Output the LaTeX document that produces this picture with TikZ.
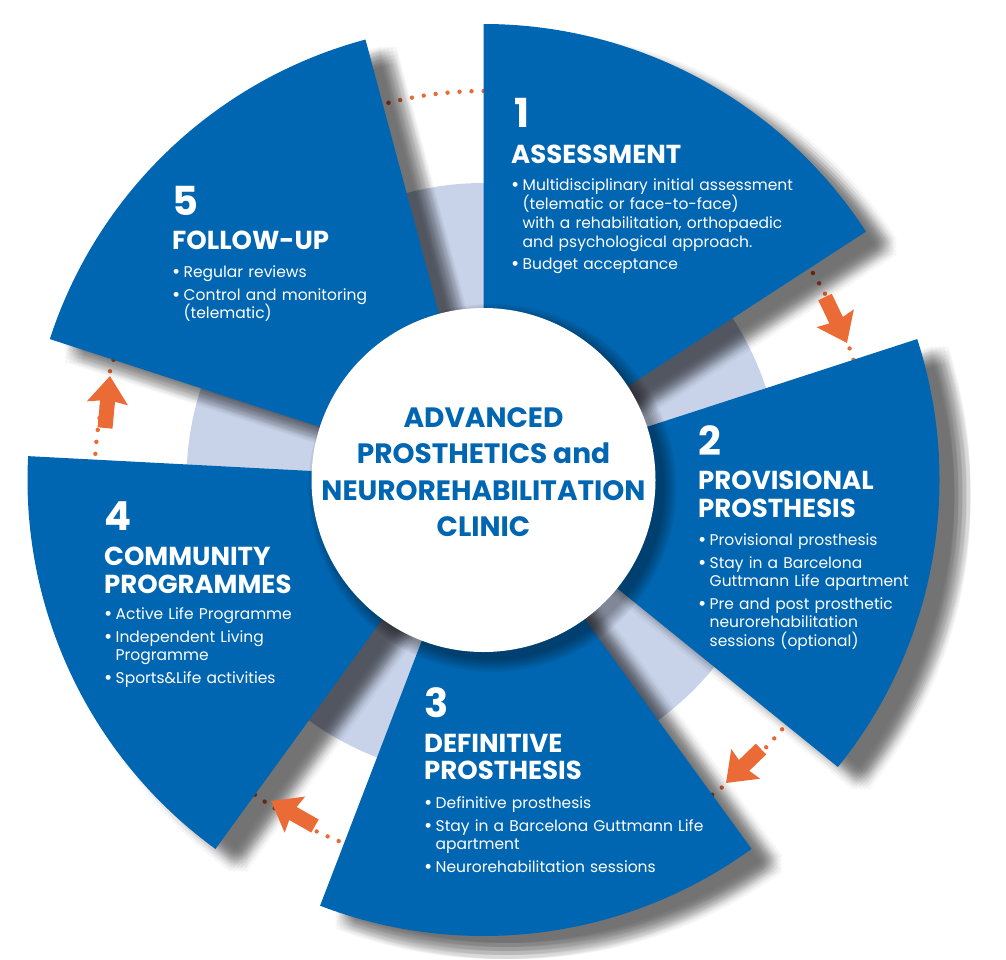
\documentclass[tikz,border=0pt]{standalone}
\usepackage{fontspec}
\setmainfont{Poppins}
\usetikzlibrary{positioning, arrows.meta, shapes.geometric}
\definecolor{clinicblue}{HTML}{0066B1}
\definecolor{ringblue}{HTML}{C8D3EA}
\definecolor{flowred}{HTML}{EB6B36}
\newcommand{\nl}{\hfil\break}
\newcommand{\bitem}[1]{\par\hangindent=11.5pt\hangafter=1\noindent\hbox to 11.5pt{\raisebox{-1pt}{\fontsize{20}{20}\selectfont\textbullet}\hss}#1\par}
\newcommand{\sectorpath}[1]{(0,0) -- (#1:456) arc[start angle=#1, delta angle=-57, radius=456] -- cycle}
\tikzset{
  num/.style={
      font=\fontsize{40}{40}\selectfont\bfseries,
      text=white,
      inner sep=0pt,
      anchor=base west
    },
  head/.style={
      font=\fontsize{26}{27.5}\selectfont\bfseries,
      text=white,
      inner sep=0pt,
      align=left,
      anchor=north west
    },
  body/.style={
      font=\fontsize{15.5}{18.7}\selectfont,
      text=white,
      inner sep=0pt,
      text width=#1,
      anchor=north west
    },
  body/.default=310pt,
  hub/.style={
      circle,
      fill=white,
      minimum size=344pt,
      inner sep=0pt
    },
  hublabel/.style={
      font=\fontsize{28}{36.5}\selectfont\bfseries,
      text=clinicblue,
      align=center,
      inner sep=0pt
    },
  dots/.style={
      draw=flowred,
      line width=4.4pt,
      line cap=round,
      dash pattern=on 0pt off 12pt
    },
  flow/.style={
      draw=flowred,
      line width=15pt,
      -{Stealth[width=40pt,length=27pt,inset=3pt,fill=flowred]}
    }
}
\begin{document}
\begin{tikzpicture}[x=1pt,y=1pt]
  \useasboundingbox (0,0) rectangle (1006,-960);
  \coordinate (ctr) at (483.5,-480);
  \begin{scope}[shift={(ctr)}]
    % ring under the sectors
    \fill[ringblue] (0,0) circle[radius=297];
    \foreach \a in {90,18,-54,-126,-198}
      \draw[dots] (\a:389) arc[start angle=\a, delta angle=15, radius=389];
    % shadows
    \foreach \a in {90,18,-54,-126,-198}
      \foreach \dx in {15,19,23,27,31}
        \foreach \dy in {-7,-11,-15,-19,-23}
          \fill[xshift=\dx pt, yshift=\dy pt, black, opacity=.031] \sectorpath{\a};
    % sectors
    \foreach \a in {90,18,-54,-126,-198}
      \fill[clinicblue] \sectorpath{\a};
    \foreach \r in {172,174,176,178,180,182,184}
      \fill[black, opacity=.06] (9,-8) circle[radius=\r];
  \end{scope}
  \node[hub] (hubdisc) at (ctr) {};
  \node[hublabel] (hubtext) at (483.5,-472) {ADVANCED\\PROSTHETICS and\\NEUROREHABILITATION\\CLINIC};

  % arrows
  \coordinate (t12) at (825,-297); \coordinate (h12) at (847,-343);
  \coordinate (t23) at (761,-749); \coordinate (h23) at (726,-783);
  \coordinate (t34) at (315,-826); \coordinate (h34) at (271,-801);
  \coordinate (t45) at (105,-428); \coordinate (h45) at (110,-376);
  \draw[flow] (t12) -- (h12);
  \draw[flow] (t23) -- (h23);
  \draw[flow] (t34) -- (h34);
  \draw[flow] (t45) -- (h45);

  % 1
  \node[num] (num1) at (514,-128) {1};
  \node[head] (head1) at (511,-145) {ASSESSMENT};
  \node[body] (body1) at (511,-172) {\bitem{Multidisciplinary initial assessment\nl (telematic or face-to-face)\nl with a rehabilitation, orthopaedic\nl and psychological approach.}\vspace{3.5pt}\bitem{Budget acceptance}};
  % 2
  \node[num] (num2) at (698,-455) {2};
  \node[head] (head2) at (698,-471) {PROVISIONAL\\PROSTHESIS};
  \node[body] (body2) at (698,-527) {\bitem{Provisional prosthesis}\vspace{3.5pt}\bitem{Stay in a Barcelona\nl Guttmann Life apartment}\vspace{3.5pt}\bitem{Pre and post prosthetic\nl neurorehabilitation\nl sessions (optional)}};
  % 3
  \node[num] (num3) at (424,-717) {3};
  \node[head] (head3) at (424,-734) {DEFINITIVE\\PROSTHESIS};
  \node[body] (body3) at (424,-790) {\bitem{Definitive prosthesis}\vspace{3.5pt}\bitem{Stay in a Barcelona Guttmann Life\nl apartment}\vspace{3.5pt}\bitem{Neurorehabilitation sessions}};
  % 4
  \node[num] (num4) at (104,-530) {4};
  \node[head] (head4) at (104,-547) {COMMUNITY\\PROGRAMMES};
  \node[body] (body4) at (104,-601) {\bitem{Active Life Programme}\vspace{3.5pt}\bitem{Independent Living\nl Programme}\vspace{3.5pt}\bitem{Sports\&Life activities}};
  % 5
  \node[num] (num5) at (172,-215) {5};
  \node[head] (head5) at (172,-231) {FOLLOW-UP};
  \node[body] (body5) at (172,-259) {\bitem{Regular reviews}\vspace{3.5pt}\bitem{Control and monitoring\nl (telematic)}};
\end{tikzpicture}
\end{document}
